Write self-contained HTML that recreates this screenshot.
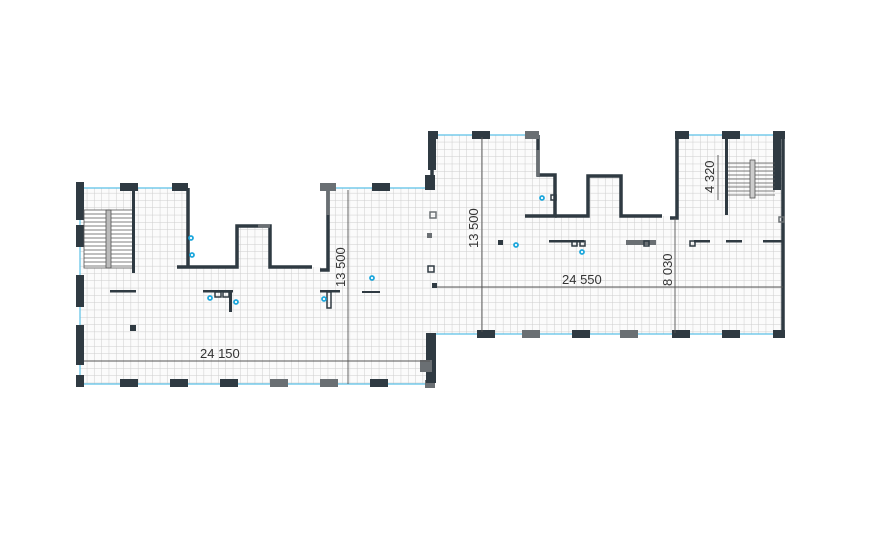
<!DOCTYPE html>
<html><head><style>html,body{margin:0;padding:0;background:#fff;width:896px;height:544px;overflow:hidden}</style></head>
<body>
<svg width="896" height="544" viewBox="0 0 896 544" xmlns="http://www.w3.org/2000/svg" font-family="Liberation Sans, sans-serif">
<defs>
<pattern id="g" width="7.3" height="7.3" patternUnits="userSpaceOnUse" x="80" y="135">
<path d="M7.3 0V7.3H0" fill="none" stroke="#cdcdcd" stroke-width="1"/>
</pattern>
</defs>
<polygon points="80,188 188,188 188,267 237,267 237,226 270,226 270,267 328,267 328,188 432,188 432,135 538,135 538,175 555,175 555,216 588,216 588,176 621,176 621,216 677,216 677,135 783,135 783,334 432,334 432,384 80,384" fill="#fbfbfb"/>
<polygon points="80,188 188,188 188,267 237,267 237,226 270,226 270,267 328,267 328,188 432,188 432,135 538,135 538,175 555,175 555,216 588,216 588,176 621,176 621,216 677,216 677,135 783,135 783,334 432,334 432,384 80,384" fill="url(#g)"/>
<g stroke="#5bc0e6" stroke-width="1.2">
<line x1="80" y1="188" x2="188" y2="188"/><line x1="328" y1="188" x2="432" y2="188"/>
<line x1="80" y1="384" x2="432" y2="384"/>
<line x1="432" y1="135" x2="538" y2="135"/><line x1="677" y1="135" x2="783" y2="135"/>
<line x1="432" y1="334" x2="783" y2="334"/>
<line x1="80" y1="188" x2="80" y2="384"/>
</g>
<g fill="none" stroke="#2f3a42" stroke-width="3.5">
<polyline points="188,188 188,267"/>
<polyline points="177,267 237,267 237,226 270,226 270,267 312,267"/>
<polyline points="320,270 328,270 328,188"/>
<polyline points="432,135 432,182"/>
<polyline points="538,135 538,175 555,175 555,216 525,216"/>
<polyline points="555,216 588,216 588,176 621,176 621,216 662,216"/>
<polyline points="670,218 677,218 677,135"/>
<polyline points="783,135 783,337"/>
<polyline points="432,334 432,386"/>
</g>
<g fill="none" stroke="#6a6f73" stroke-width="3.5">
<line x1="258" y1="226" x2="270" y2="226"/><line x1="328" y1="188" x2="328" y2="215"/>
<line x1="538" y1="150" x2="538" y2="176"/>
</g>
<g fill="#2f3a42">
<rect x="76" y="182" width="8" height="38"/><rect x="76" y="225" width="8" height="22"/><rect x="76" y="275" width="8" height="32"/><rect x="76" y="325" width="8" height="40"/><rect x="76" y="375" width="8" height="12"/>
<rect x="120" y="183" width="18" height="8"/><rect x="172" y="183" width="16" height="8"/><rect x="372" y="183" width="18" height="8"/><rect x="425" y="175" width="10" height="15"/>
<rect x="120" y="379" width="18" height="8"/><rect x="170" y="379" width="18" height="8"/><rect x="220" y="379" width="18" height="8"/><rect x="370" y="379" width="18" height="8"/>
<rect x="428" y="135" width="8" height="35"/><rect x="428" y="131" width="10" height="8"/><rect x="472" y="131" width="18" height="8"/>
<rect x="525" y="131" width="14" height="8" fill="#6a6f73"/>
<rect x="675" y="131" width="14" height="8"/><rect x="722" y="131" width="18" height="8"/><rect x="773" y="131" width="12" height="8"/><rect x="773" y="135" width="8" height="55"/>
<rect x="477" y="330" width="18" height="8"/><rect x="522" y="330" width="18" height="8" fill="#6a6f73"/><rect x="572" y="330" width="18" height="8"/><rect x="620" y="330" width="18" height="8" fill="#6a6f73"/><rect x="672" y="330" width="18" height="8"/><rect x="722" y="330" width="18" height="8"/><rect x="773" y="330" width="12" height="8"/>
<rect x="270" y="379" width="18" height="8" fill="#6a6f73"/><rect x="320" y="379" width="18" height="8" fill="#6a6f73"/><rect x="425" y="380" width="10" height="8" fill="#6a6f73"/>
<rect x="320" y="183" width="16" height="8" fill="#6a6f73"/>
<rect x="426" y="333" width="10" height="50"/><rect x="420" y="360" width="12" height="12" fill="#6a6f73"/>
<rect x="130" y="325" width="6" height="6"/><rect x="498" y="240" width="5" height="5"/><rect x="432" y="283" width="5" height="5"/>
<rect x="110" y="290" width="26" height="2.5"/><rect x="203" y="290" width="30" height="2.5"/><rect x="229" y="290" width="3" height="22"/>
<rect x="320" y="290" width="20" height="2.5"/><rect x="362" y="291" width="18" height="2"/>
<rect x="549" y="240" width="35" height="2.5"/><rect x="694" y="240" width="16" height="2.5"/><rect x="726" y="240" width="16" height="2.5"/><rect x="763" y="240" width="20" height="2.5"/>
<rect x="626" y="240" width="30" height="5" fill="#6a6f73"/>
</g>
<g fill="none" stroke="#2f3a42" stroke-width="1.5">
<rect x="215" y="292" width="6" height="5"/><rect x="223" y="292" width="6" height="5"/><rect x="327" y="292" width="4" height="16"/>
<rect x="430" y="212" width="6" height="6" stroke="#6a6f73"/><rect x="428" y="266" width="6" height="6"/><rect x="551" y="195" width="5" height="5"/>
<rect x="572" y="241" width="5" height="5"/><rect x="580" y="241" width="5" height="5"/><rect x="644" y="241" width="5" height="5"/><rect x="690" y="241" width="5" height="5"/><rect x="779" y="217" width="5" height="5" stroke="#6a6f73"/><rect x="427" y="233" width="5" height="5" fill="#6a6f73" stroke="none"/>
</g>
<g stroke="#555" stroke-width="0.8">
<rect x="84" y="210" width="50" height="58" fill="#fff"/>
<path d="M84 214H134M84 218H134M84 222H134M84 226H134M84 230H134M84 234H134M84 238H134M84 242H134M84 246H134M84 250H134M84 254H134M84 258H134M84 262H134M84 266H134"/>
<rect x="106" y="210" width="5" height="58" fill="#bbb"/>
<path d="M728 163H775M728 167H775M728 171H775M728 175H775M728 179H775M728 183H775M728 187H775M728 191H775M728 195H775"/>
<rect x="750" y="160" width="5" height="38" fill="#ccc"/>
</g>
<rect x="132" y="188" width="3" height="85" fill="#2f3a42"/><rect x="725" y="135" width="3" height="80" fill="#2f3a42"/>
<g fill="#fff" stroke="#1ea7dc" stroke-width="1.8">
<circle cx="191" cy="238" r="2"/><circle cx="192" cy="255" r="2"/><circle cx="210" cy="298" r="2"/><circle cx="236" cy="302" r="2"/><circle cx="324" cy="299" r="2"/><circle cx="372" cy="278" r="2"/><circle cx="542" cy="198" r="2"/><circle cx="516" cy="245" r="2"/><circle cx="582" cy="252" r="2"/>
</g>
<g stroke="#555" stroke-width="0.9">
<line x1="84" y1="361" x2="430" y2="361"/><line x1="348" y1="190" x2="348" y2="384"/>
<line x1="482" y1="137" x2="482" y2="332"/><line x1="437" y1="287" x2="783" y2="287"/>
<line x1="675" y1="218" x2="675" y2="333"/><line x1="718" y1="155" x2="718" y2="200"/>
</g>
<g font-size="13" fill="#333">
<text x="200" y="358">24 150</text>
<text x="562" y="284">24 550</text>
<text transform="translate(345,287) rotate(-90)">13 500</text>
<text transform="translate(478,248) rotate(-90)">13 500</text>
<text transform="translate(672,286) rotate(-90)">8 030</text>
<text transform="translate(714,193) rotate(-90)">4 320</text>
</g>
</svg>
</body></html>
